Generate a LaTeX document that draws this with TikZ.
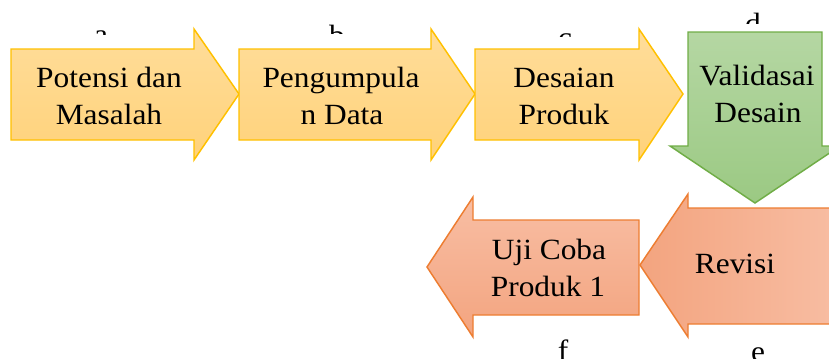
\documentclass[tikz,border=0pt]{standalone}
\usepackage{fontspec}
\setmainfont{Liberation Serif}[FakeStretch=1.07]
\definecolor{ylwline}{HTML}{FFC000}
\definecolor{ylwtop}{HTML}{FFDD9A}
\definecolor{ylwbot}{HTML}{FFD27A}
\definecolor{grnline}{HTML}{70AD47}
\definecolor{grntop}{HTML}{B5D7A3}
\definecolor{grnbot}{HTML}{9BC983}
\definecolor{orgline}{HTML}{ED7D31}
\definecolor{orgdark}{HTML}{F3A47F}
\definecolor{orglight}{HTML}{F8BEA4}
\tikzset{
  yarrow/.style={draw=ylwline, line width=1.1pt, line join=miter, top color=ylwtop, bottom color=ylwbot},
  garrow/.style={draw=grnline, line width=1.1pt, line join=miter, top color=grntop, bottom color=grnbot},
  rarrow/.style={draw=orgline, line width=1.1pt, line join=miter, left color=orgdark, right color=orglight},
  uarrow/.style={draw=orgline, line width=1.1pt, line join=miter, top color=orglight, bottom color=orgdark},
  lbl/.style={inner sep=0pt, anchor=base, font=\fontsize{22}{27.75}\selectfont},
}
\begin{document}
\begin{tikzpicture}[x=0.75pt, y=-0.75pt]
\useasboundingbox (0,0) rectangle (829,358);
\clip (0,0) rectangle (829,358);
% top row arrows
\path[yarrow] (11,49) -- (194,49) -- (194,29) -- (239,94) -- (194,160) -- (194,140) -- (11,140) -- cycle;
\path[yarrow] (239,49) -- (431,49) -- (431,29) -- (475,94) -- (431,160) -- (431,140) -- (239,140) -- cycle;
\path[yarrow] (475,49) -- (639,49) -- (639,29) -- (683,94) -- (639,160) -- (639,140) -- (475,140) -- cycle;
% down arrow
\path[garrow] (688,32) -- (822,32) -- (822,146) -- (840,146) -- (755,203) -- (670,146) -- (688,146) -- cycle;
% bottom row arrows
\path[uarrow] (639,220) -- (473,220) -- (473,197) -- (427,267) -- (473,337) -- (473,315) -- (639,315) -- cycle;
\path[rarrow] (845,208) -- (688,208) -- (688,194) -- (640,265) -- (688,337) -- (688,324) -- (845,324) -- cycle;
% labels
\node[lbl] (p1) at (109,87) {Potensi dan};
\node[lbl] (p2) at (109,124) {Masalah};
\node[lbl] (g1) at (341,87) {Pengumpula};
\node[lbl] (g2) at (342,124) {n Data};
\node[lbl] (d1) at (564,87) {Desaian};
\node[lbl] (d2) at (564,124) {Produk};
\node[lbl] (v1) at (757,85) {Validasai};
\node[lbl] (v2) at (758,122) {Desain};
\node[lbl] (r1) at (735,273) {Revisi};
\node[lbl] (u1) at (549,259) {Uji Coba};
\node[lbl] (u2) at (548,296) {Produk 1};
% clipped step letters
\begin{scope}
\clip (0,0) rectangle (829,34);
\node[lbl] (la) at (101,44.5) {a};
\end{scope}
\begin{scope}
\clip (0,0) rectangle (829,33.5);
\node[lbl] (lb) at (337,45) {b};
\end{scope}
\begin{scope}
\clip (0,0) rectangle (829,36);
\node[lbl] (lc) at (565,47.5) {c};
\end{scope}
\begin{scope}
\clip (0,0) rectangle (829,23);
\node[lbl] (ld) at (753,33) {d};
\end{scope}
\node[lbl] (lf) at (563,360) {f};
\node[lbl] (le) at (758,361) {e};
\end{tikzpicture}
\end{document}
